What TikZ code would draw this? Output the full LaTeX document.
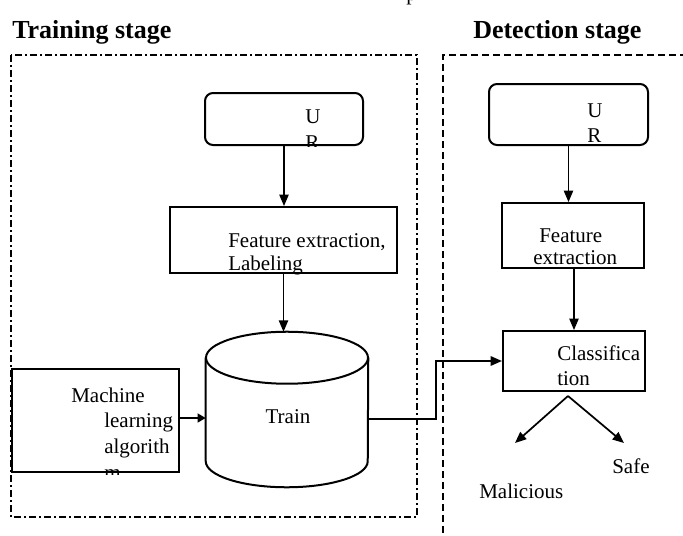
\documentclass[tikz,border=0pt]{standalone}
\usepackage{fontspec}
\setmainfont{Liberation Serif}
\usetikzlibrary{arrows.meta,calc}

\tikzset{
  sz/.style 2 args={minimum width=#1*0.75pt, minimum height=#2*0.75pt},
  box/.style={draw, line width=1.5pt, inner sep=0pt},
  rbox/.style={box, rounded corners=6pt},
  lbl/.style={anchor=base west, inner sep=0pt, font=\fontsize{15.75}{18}\selectfont},
  title/.style={anchor=base west, inner sep=0pt, font=\fontsize{19.5}{23}\selectfont\bfseries},
  link/.style={line width=1pt, -{Triangle[length=8.5pt,width=7pt]}},
  thicklink/.style={line width=1.5pt, -{Triangle[length=8.5pt,width=7pt]}},
  stagedashdot/.style={line width=1.4pt, dash pattern=on 5.25pt off 2.25pt on 1.5pt off 2.25pt},
  stagedashed/.style={line width=1.4pt, dash pattern=on 5.5pt off 2.75pt},
}

\begin{document}
\begin{tikzpicture}[x=0.75pt, y=-0.75pt]
  \useasboundingbox (0,0) rectangle (683,536);
  \fill[white] (0,0) rectangle (683,536);
  \clip (0,0) rectangle (683,536);

  % caption fragment and stage titles
  \node[lbl] (capfrag) at (406,0.5) {p};
  \node[title] (trtitle) at (12,38) {Training stage};
  \node[title] (dettitle) at (473,38) {Detection stage};

  % stage frames
  \draw[stagedashdot] (11,55) rectangle (417,517);
  \draw[stagedashed] (720,55) -- (443,55) -- (443,560);

  % ---- training stage ----
  \node[rbox, sz={158}{52}] (turl) at (284,119) {};
  \begin{scope}
    \clip ($(turl.north west)+(1,1)$) rectangle ($(turl.south east)+(-1,0)$);
    \node[lbl] (turlU) at (305,123) {U};
    \node[lbl] (turlR) at (305,149) {R};
  \end{scope}

  \node[box, sz={227}{66}] (tfeat) at (283.5,240) {};
  \begin{scope}
    \clip ($(tfeat.north west)+(1,1)$) rectangle ($(tfeat.south east)+(-1,0)$);
    \node[lbl] (tfeatA) at (228,247) {Feature extraction,};
    \node[lbl] (tfeatB) at (228,270) {Labeling};
  \end{scope}

  % training data store (cylinder)
  \node[sz={162}{155}, inner sep=0pt] (tr) at (287,409.5) {};
  \draw[line width=1.5pt] ($(tr.north)+(0,26)$) ellipse [x radius=60.75pt, y radius=19.5pt];
  \draw[line width=1.5pt] ($(tr.north west)+(0,26)$) -- ($(tr.south west)+(0,-26)$)
    arc[start angle=180, end angle=360, x radius=60.75pt, y radius=19.5pt]
    -- ($(tr.north east)+(0,26)$);
  \node[lbl, anchor=base] (trtext) at (288,423) {Train};

  \node[box, sz={167}{103}] (ml) at (95.5,420.5) {};
  \begin{scope}
    \clip ($(ml.north west)+(1,1)$) rectangle ($(ml.south east)+(-1,1.5)$);
    \node[lbl] (mlA) at (71,402) {Machine};
    \node[lbl] (mlB) at (104,427) {learning};
    \node[lbl] (mlC) at (104,453) {algorith};
    \node[lbl] (mlD) at (104,479) {m};
  \end{scope}

  \draw[link] (turl.south) -- (turl.south |- tfeat.north);
  \draw[link] (tfeat.south) -- (tfeat.south |- tr.north);
  \draw[line width=2.2pt, -{Triangle[length=6pt,width=6.5pt]}] ($(ml.east)+(0,-2.5)$) -- ($(tr.west)+(0,8.5)$);

  % ---- detection stage ----
  \node[rbox, sz={159}{61}] (durl) at (568.5,114.5) {};
  \begin{scope}
    \clip ($(durl.north west)+(1,1)$) rectangle ($(durl.south east)+(-1,1)$);
    \node[lbl] (durlU) at (587,117) {U};
    \node[lbl] (durlR) at (587,142) {R};
  \end{scope}

  \node[box, sz={142}{65}] (dfeat) at (573,235.5) {};
  \node[lbl] (dfeatA) at (539,242) {Feature};
  \node[lbl] (dfeatB) at (533,264) {extraction};

  \node[box, sz={142}{60}] (cls) at (574,361) {};
  \node[lbl] (clsA) at (557,360) {Classifica};
  \node[lbl] (clsB) at (557,385) {tion};

  \draw[link] (durl.south) -- (durl.south |- dfeat.north);
  \draw[link] ($(dfeat.south)+(1,0)$) -- ($(cls.north)$);

  % trained model handed over to the classifier
  \coordinate (jog) at (436,0);
  \draw[thicklink] ($(tr.east)+(0,9.5)$) -| (jog |- cls.west) -- (cls.west);

  % classification outcomes
  \coordinate (split) at (568,396);
  \coordinate (maltip) at (515,443);
  \coordinate (safetip) at (624,443);
  \draw[link, line width=1.3pt] (split) -- (maltip);
  \draw[link, line width=1.3pt] (split) -- (safetip);
  \node[lbl] (safe) at (612,473) {Safe};
  \node[lbl] (mal) at (479,498) {Malicious};
\end{tikzpicture}
\end{document}
